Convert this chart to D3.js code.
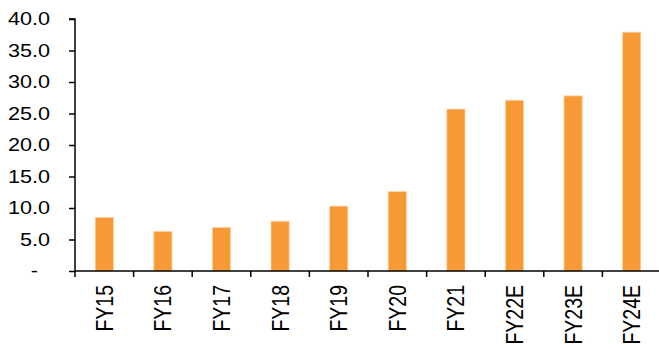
<!DOCTYPE html>
<html>
<head>
<meta charset="utf-8">
<script src="https://cdn.jsdelivr.net/npm/d3@7"></script>
<style>
  body { margin: 0; background: #fff; }
  svg text { font-family: "Liberation Sans", Arial, sans-serif; fill: #000; }
</style>
</head>
<body>
<div id="chart"></div>
<script>
const categories = ["FY15", "FY16", "FY17", "FY18", "FY19", "FY20", "FY21", "FY22E", "FY23E", "FY24E"]
const values = [8.5, 6.3, 6.9, 7.9, 10.3, 12.6, 25.7, 27.1, 27.8, 37.9]
const yTicks = [0, 5, 10, 15, 20, 25, 30, 35, 40]

const dimensions = {
  width: 659,
  height: 349,
  margin: { top: 19, right: -2, bottom: 78, left: 75 },
}
dimensions.boundedWidth = dimensions.width - dimensions.margin.left - dimensions.margin.right
dimensions.boundedHeight = dimensions.height - dimensions.margin.top - dimensions.margin.bottom

// the source picture is stretched a little sideways
const stretch = 1.2

const wrapper = d3.select("#chart")
  .append("svg")
    .attr("width", dimensions.width)
    .attr("height", dimensions.height)
const bounds = wrapper.append("g")
  .attr("transform", `translate(${dimensions.margin.left},${dimensions.margin.top})`)

const xScale = d3.scaleBand()
  .domain(categories)
  .range([0, dimensions.boundedWidth])
  .paddingInner(0.69)
  .paddingOuter(0.345)
const yScale = d3.scaleLinear()
  .domain([0, 40])
  .range([dimensions.boundedHeight, 0])

// bars
bounds.selectAll("rect.bar")
  .data(values)
  .join("rect")
    .attr("class", "bar")
    .attr("x", (d, i) => xScale(categories[i]))
    .attr("y", d => yScale(d))
    .attr("width", xScale.bandwidth())
    .attr("height", d => yScale(0) - yScale(d))
    .attr("fill", "#f79a36")
    .attr("stroke", "#fbd3a8")
    .attr("stroke-width", 0.8)

// y axis
const yAxis = bounds.append("g")
  .call(d3.axisLeft(yScale)
    .tickValues(yTicks)
    .tickSize(6)
    .tickFormat(d => d === 0 ? "-" : d3.format(".1f")(d)))
yAxis.select(".domain").attr("stroke", "#000").attr("stroke-width", 1.5)
  .attr("d", `M-6,${yScale(40)}H0V${yScale(0)}`)
yAxis.selectAll(".tick line").attr("stroke", "#000").attr("stroke-width", 1.5)
yAxis.selectAll(".tick text")
  .attr("x", 0)
  // accounting-style dash for zero sits further left
  .attr("transform", d => `translate(${d === 0 ? -37 : -25},0) scale(${stretch},1)`)
  .style("font-size", "18px")

// x axis: ticks sit between categories
const step = xScale.step()
const bandTicks = d3.range(categories.length + 1).map(i => i * step)
const xAxis = bounds.append("g")
  .attr("transform", `translate(0,${dimensions.boundedHeight})`)
xAxis.append("line")
  .attr("x1", 0).attr("x2", dimensions.boundedWidth)
  .attr("stroke", "#000").attr("stroke-width", 1.5)
xAxis.selectAll("line.tick")
  .data(bandTicks)
  .join("line")
    .attr("class", "tick")
    .attr("x1", d => d).attr("x2", d => d)
    .attr("y1", 0).attr("y2", 6)
    .attr("stroke", "#000").attr("stroke-width", 1.5)
xAxis.selectAll("text.label")
  .data(categories)
  .join("text")
    .attr("class", "label")
    .attr("transform", d => `translate(${xScale(d) + xScale.bandwidth() / 2},14) scale(${stretch},1) rotate(-90)`)
    .attr("text-anchor", "end")
    .attr("dy", "0.36em")
    .style("font-size", "19.5px")
    .text(d => d)
</script>
</body>
</html>
